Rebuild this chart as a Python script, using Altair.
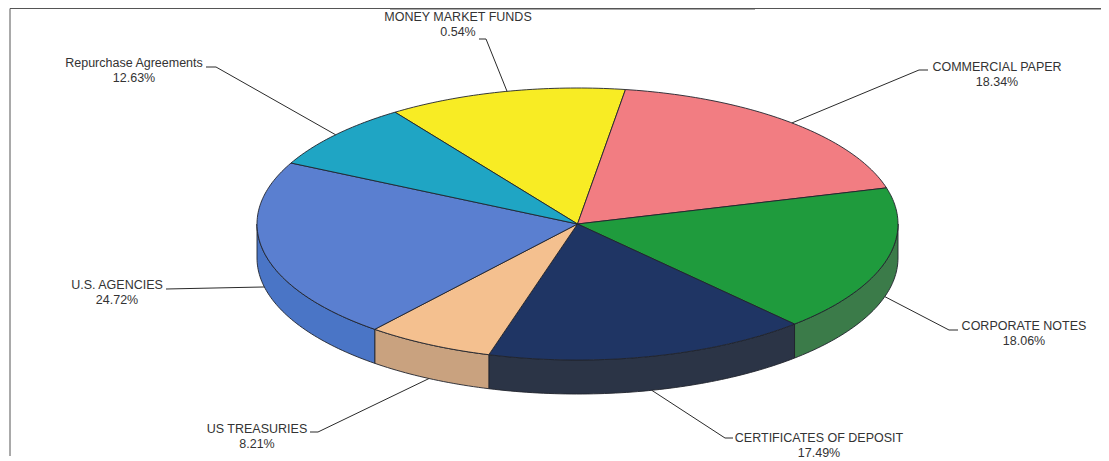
import math
import altair as alt
import pandas as pd

# ---- values ----
slice_names = ["Repurchase wedge", "Pink wedge", "Green wedge", "Navy wedge", "Tan wedge", "Blue wedge", "Teal wedge"]
# visible slice sizes (percent of the full pie, clockwise)
slice_shares = [12.03, 18.33, 17.44, 16.30, 6.44, 21.50, 7.96]
label_names = ["MONEY MARKET FUNDS", "Repurchase Agreements", "COMMERCIAL PAPER", "CORPORATE NOTES",
               "CERTIFICATES OF DEPOSIT", "US TREASURIES", "U.S. AGENCIES"]
label_values = ["0.54%", "12.63%", "18.34%", "18.06%", "17.49%", "8.21%", "24.72%"]

# ---- styles / layout ----
top_colors = ["#f8ec24", "#f27d82", "#1f9b3d", "#1f3564", "#f4c08f", "#5a7fd0", "#1fa5c4"]
wall_colors = ["#f8ec24", "#f27d82", "#3b7b49", "#2b3446", "#c9a27f", "#4a75c6", "#1fa5c4"]
START = 325.3
CX, CY, RX, RY, DEPTH = 577.5, 224, 320.5, 136, 34
label_x = [458, 134, 997, 1024, 819, 257, 117]
label_y = [17, 63, 67, 326, 438, 429, 285]
rim_angle = [347.3, 311, 42, 106.5, 166.6, 207.6, 257.7]
elbows = [[(486, 39), (479, 39)], [(216, 67), (206, 67)], [(919, 70), (928, 70)], [(949, 330), (958, 330)],
          [(725, 438), (733, 438)], [(318, 432), (310, 432)], [(166, 289)]]

X = alt.X("x:Q", scale=alt.Scale(domain=[8, 1101]), axis=None)
Y = alt.Y("y:Q", scale=alt.Scale(domain=[461, 8]), axis=None)


def rim(a, dy=0):
    r = math.radians(a)
    return CX + RX * math.sin(r), CY - RY * math.cos(r) + dy


def arc_pts(a, b, dy=0):
    n = max(2, int(abs(b - a)) + 1)
    return [rim(a + (b - a) * i / n, dy) for i in range(n + 1)]


def poly(pts, color, sw=0.9):
    df = pd.DataFrame({"x": [p[0] for p in pts], "y": [p[1] for p in pts], "i": range(len(pts))})
    return alt.Chart(df).mark_line(fill=color, stroke="#20242c", strokeWidth=sw, strokeJoin="round").encode(
        x=X, y=Y, order="i:Q")


layers = []
# outer frame
frame = pd.DataFrame({"x": [10, 10, 390, 870], "x2": [1101, 10, 755, 1101], "y": [8.5, 8.5, 8.5, 8.5],
                      "y2": [8.5, 456, 8.5, 8.5], "w": [1, 1, 2, 2]})
layers.append(alt.Chart(frame).mark_rule(color="#555555").encode(
    x=X, x2="x2:Q", y=Y, y2="y2:Q", strokeWidth=alt.StrokeWidth("w:Q", scale=None)))

# side walls, then top faces
edges = [START]
for s in slice_shares:
    edges.append(edges[-1] + s * 3.6)
walls, tops = [], []
for k, color in enumerate(top_colors):
    a, b = edges[k], edges[k + 1]
    tops.append(poly([(CX, CY)] + arc_pts(a, b) + [(CX, CY)], color))
    for shift in (0, 360):
        lo, hi = max(a - shift, 90), min(b - shift, 270)
        if lo < hi:
            walls.append(poly(arc_pts(lo, hi) + arc_pts(hi, lo, DEPTH) + [rim(lo)], wall_colors[k]))
layers += walls + tops

# leader lines
for k, bends in enumerate(elbows):
    a = rim_angle[k]
    start = rim(a, DEPTH if 90 < a < 270 else 0)
    pts = [start] + bends
    df = pd.DataFrame({"x": [p[0] for p in pts], "y": [p[1] for p in pts], "i": range(len(pts))})
    layers.append(alt.Chart(df).mark_line(color="#2a2a2a", strokeWidth=1).encode(x=X, y=Y, order="i:Q"))

# labels
rows = []
for n, v, x, y in zip(label_names, label_values, label_x, label_y):
    rows.append({"x": x, "y": y, "t": n})
    rows.append({"x": x, "y": y + 14.5, "t": v})
layers.append(alt.Chart(pd.DataFrame(rows)).mark_text(
    font="Liberation Sans", fontSize=12.5, color="#333333", align="center", baseline="middle"
).encode(x=X, y=Y, text="t:N"))

chart = alt.layer(*layers).properties(
    width=1093, height=453, padding=0, autosize=alt.AutoSizeParams(type="none"), background="#ffffff"
).configure_view(stroke=None)

chart.save("out.html", embed_options={"renderer": "svg", "actions": False})
